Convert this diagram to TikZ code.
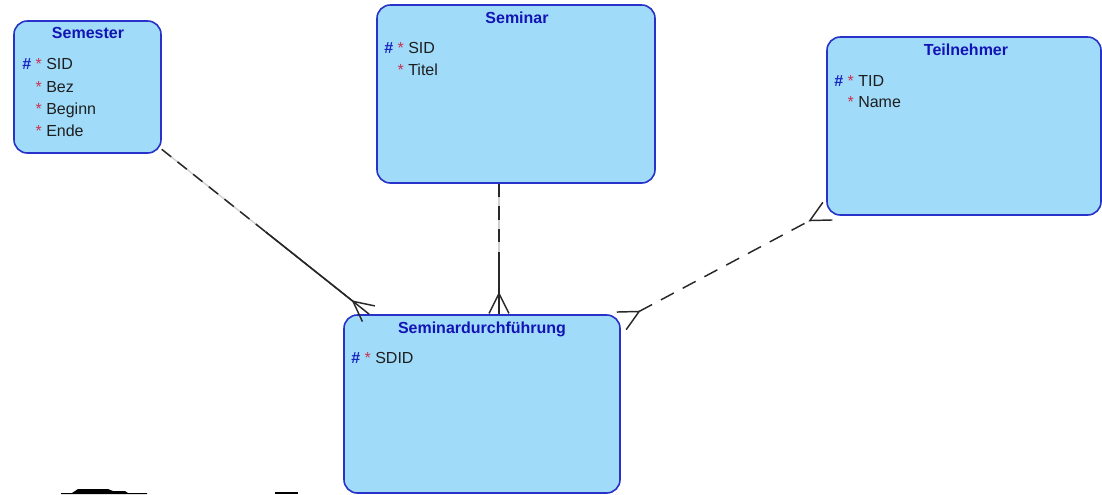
\documentclass[tikz,border=0pt]{standalone}
\usepackage{fontspec}
\setmainfont{Liberation Sans}
\usepackage{xcolor}
\usetikzlibrary{arrows.meta,calc,fit}

\definecolor{entfill}{RGB}{160,220,250}
\definecolor{entline}{RGB}{40,50,200}
\definecolor{enttitle}{RGB}{20,20,180}
\definecolor{pkblue}{RGB}{25,35,190}
\definecolor{starred}{RGB}{200,50,80}
\definecolor{attrtext}{RGB}{30,30,30}
\definecolor{relline}{RGB}{40,40,40}

\newcommand{\pkattr}[1]{{\color{pkblue}\textbf{\#}} {\color{starred}*} #1}
\newcommand{\mattr}[1]{\phantom{\textbf{\#}} {\color{starred}*} #1}

\tikzset{
	entity/.style={draw=entline, fill=entfill, line width=1.2pt, rounded corners=10pt, inner sep=0pt},
	etitle/.style={anchor=base, inner sep=0pt, text=enttitle, font=\fontsize{12}{14}\selectfont\bfseries},
	attr/.style={anchor=base west, inner sep=0pt, text=attrtext, font=\fontsize{12}{14}\selectfont},
	rel/.style={draw=relline, line width=1.1pt},
	relgap/.style={draw=black!18, line width=1.1pt},
	opt/.style={rel, dash pattern=on 9pt off 6pt},
	crow/.style={-{Straight Barb[reversed, length=15pt, width=15pt]}},
	crows/.style={{Straight Barb[reversed, length=15pt, width=15pt]}-{Straight Barb[reversed, length=15pt, width=15pt]}}
}

\begin{document}
\begin{tikzpicture}[x=0.75pt, y=-0.75pt]
	\useasboundingbox (0,0) rectangle (1102,494);

	% entities
	\node[entity, fit={(14,21) (161,153)}] (semester) {};
	\node[entity, fit={(377,5) (655,183)}] (seminar) {};
	\node[entity, fit={(827,37) (1101,215)}] (teilnehmer) {};
	\node[entity, fit={(344,315) (620,493)}] (durchf) {};

	% Semester
	\node[etitle] (semester-t) at (88,38) {Semester};
	\node[attr] (semester-sid) at (22,69) {\pkattr{SID}};
	\node[attr] (semester-bez) at (22,92) {\mattr{Bez}};
	\node[attr] (semester-beginn) at (22,114) {\mattr{Beginn}};
	\node[attr] (semester-ende) at (22,136) {\mattr{Ende}};

	% Seminar
	\node[etitle] (seminar-t) at (517,23) {Seminar};
	\node[attr] (seminar-sid) at (384,53) {\pkattr{SID}};
	\node[attr] (seminar-titel) at (384,75) {\mattr{Titel}};

	% Teilnehmer
	\node[etitle] (teilnehmer-t) at (966,55) {Teilnehmer};
	\node[attr] (teilnehmer-tid) at (834,86) {\pkattr{TID}};
	\node[attr] (teilnehmer-name) at (834,107) {\mattr{Name}};

	% Seminardurchfuehrung
	\node[etitle] (durchf-t) at (482,333) {Seminardurchführung};
	\node[attr] (durchf-sdid) at (351,363) {\pkattr{SDID}};

	% relations
	\coordinate (e1) at ($(durchf.north west)+(26,0)$);
	\coordinate (m1) at ($(semester.-40)!.5!(e1)$);
	\draw[relgap] (semester.-40) -- (m1);
	\draw[opt] (semester.-40) -- (m1);
	\draw[rel] (m1) -- (e1);
	\draw[rel, crow] (m1) -- (e1);

	\coordinate (s2) at ($(seminar.south)+(-17,0)$);
	\coordinate (e2) at ($(durchf.north)+(17,0)$);
	\coordinate (m2) at ($(s2)!.56!(e2)$);
	\draw[relgap] (s2) -- (m2);
	\draw[opt, dash pattern=on 10pt off 7pt] (s2) -- (m2);
	\draw[rel] (m2) -- (e2);
	\draw[rel, crow] (m2) -- (e2);

	\coordinate (s3) at ($(durchf.north east)+(0,7)$);
	\coordinate (e3) at ($(teilnehmer.south west)+(2,-5)$);
	\draw[rel, crows, dash pattern=on 11pt off 7.5pt] (s3) -- (e3);

	% cut off bits at the bottom
	\fill (61,493) -- (72,493) -- (78,489) -- (108,489) -- (113,491) -- (125,491) -- (128,493) -- (147,493) -- (147,494) -- (61,494) -- cycle;
	\fill (275,492) rectangle (298,494);
\end{tikzpicture}
\end{document}
